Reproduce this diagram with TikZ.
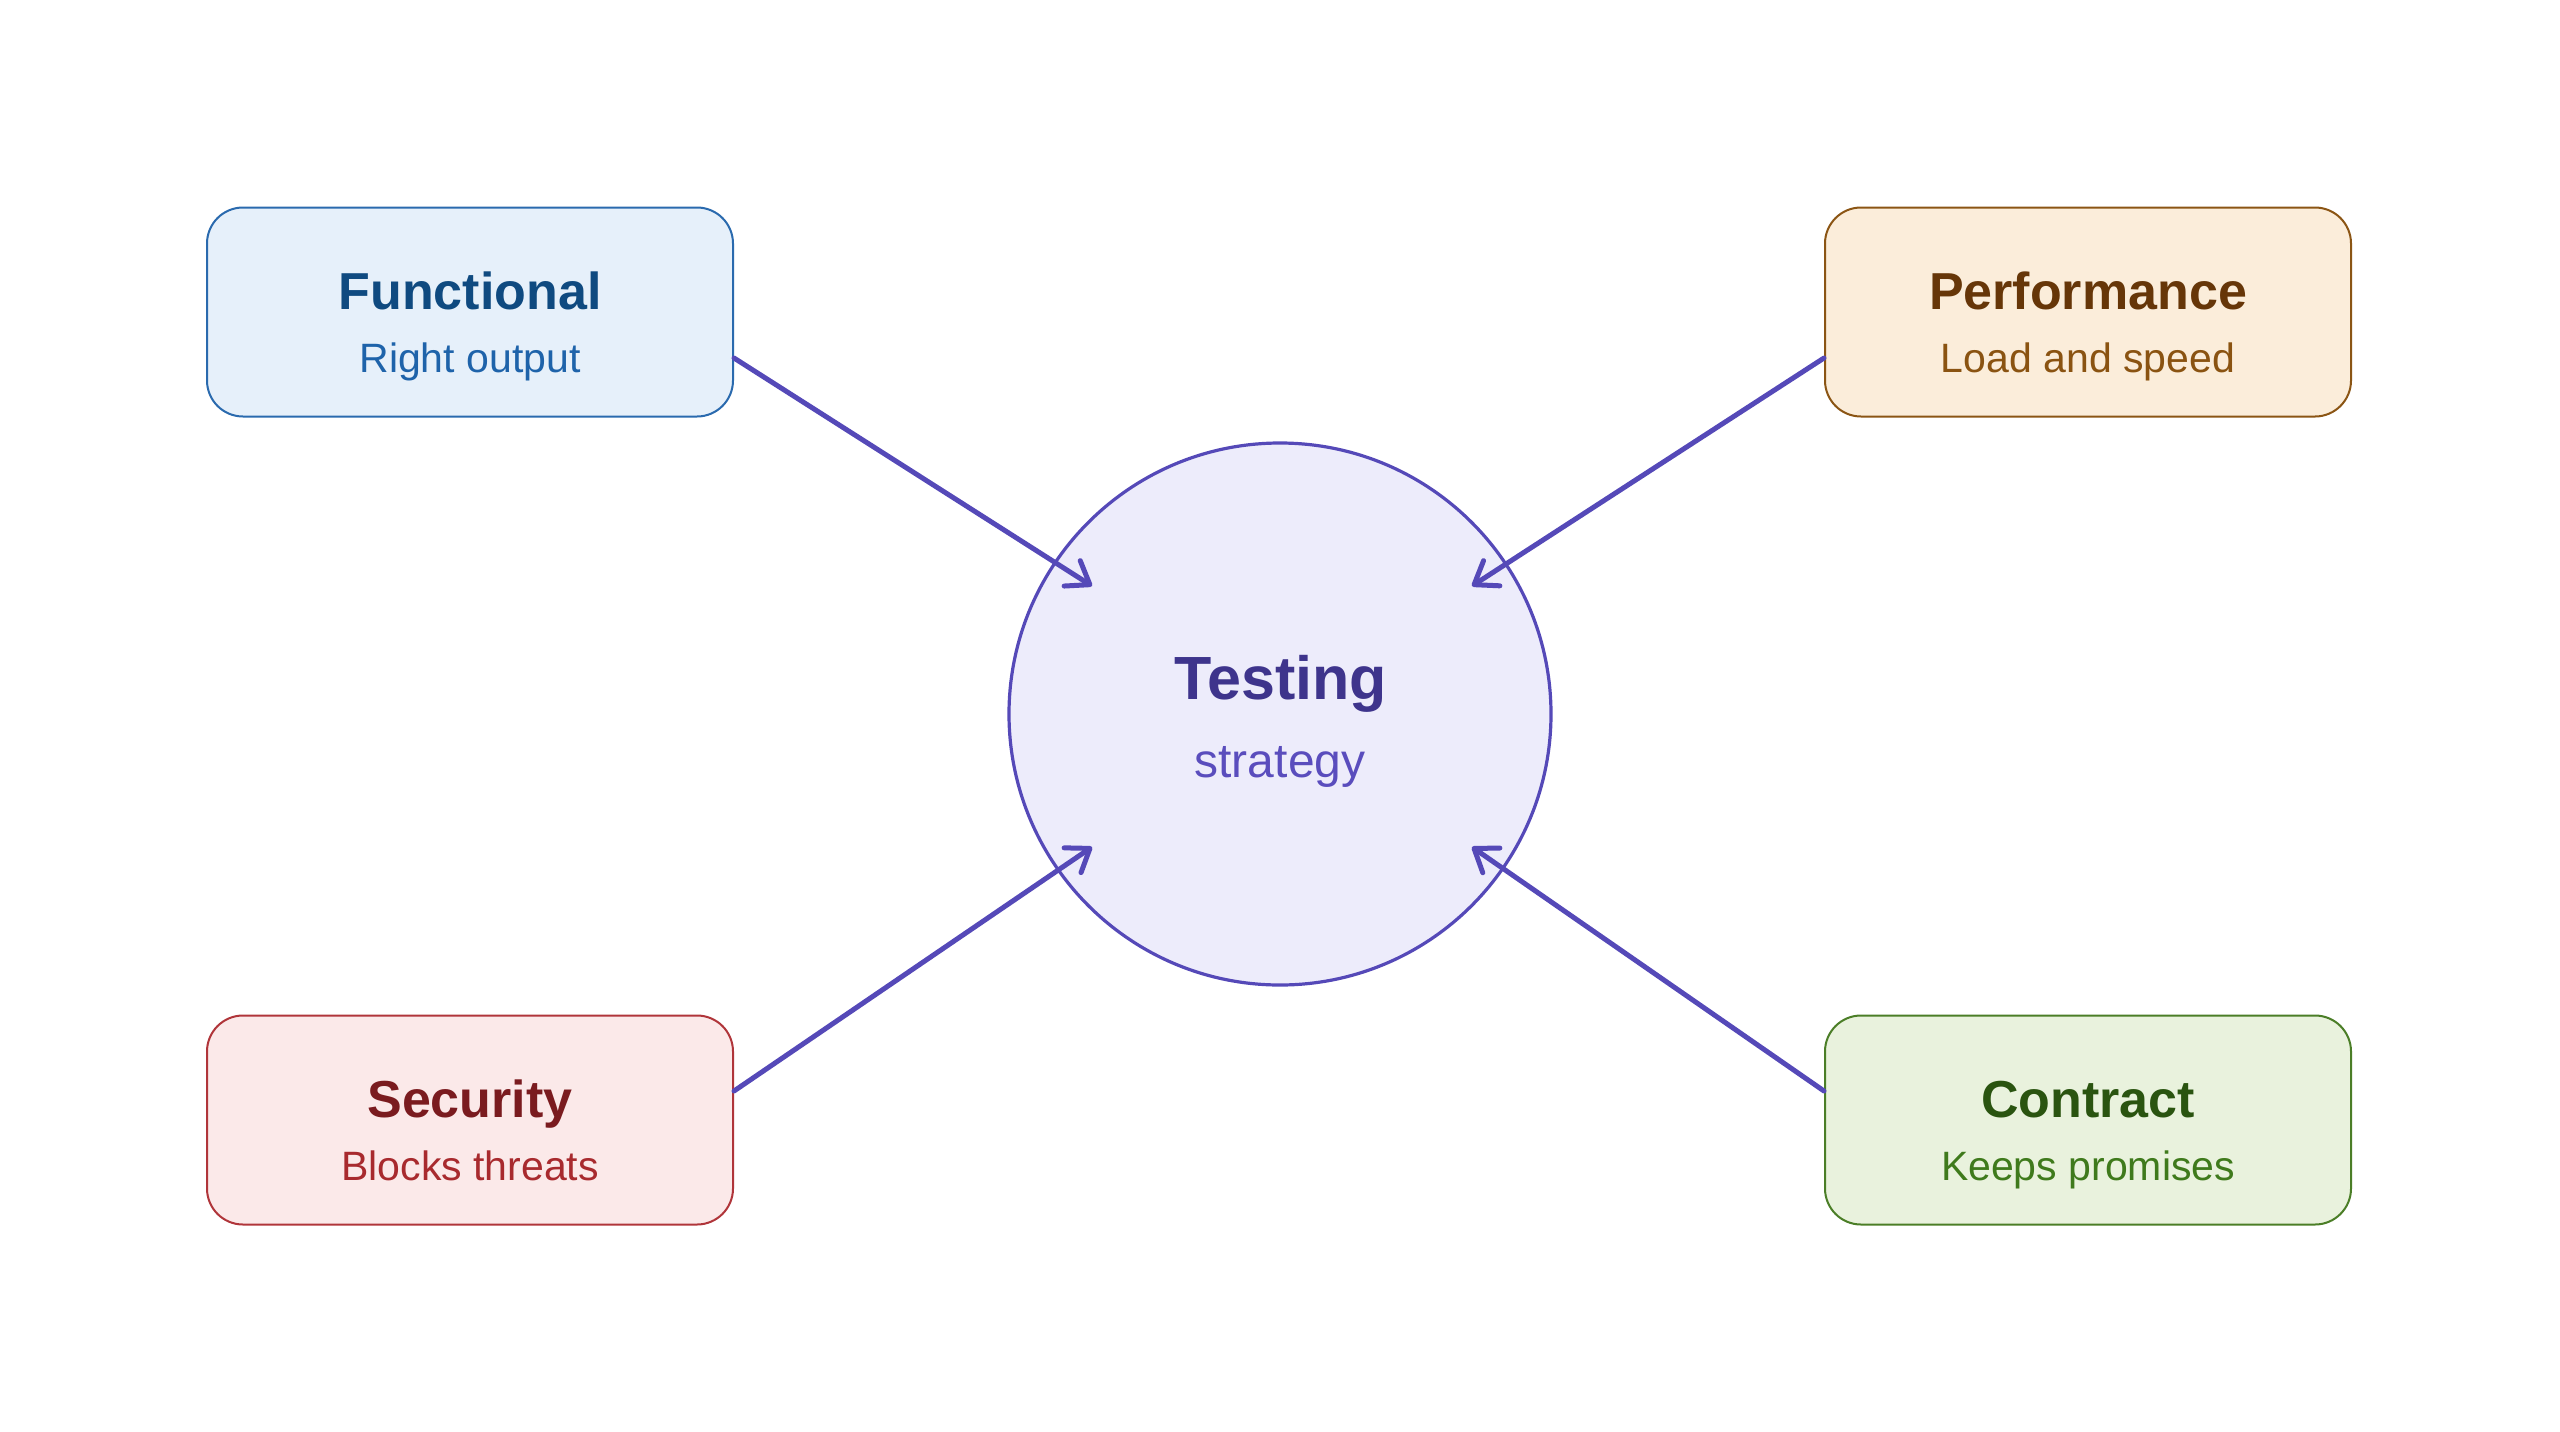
\documentclass[tikz,border=0pt]{standalone}
\usepackage{fontspec}
\setmainfont{Liberation Sans}
\usetikzlibrary{arrows.meta,calc}
\definecolor{funcfill}{HTML}{E6F0FA}
\definecolor{funcline}{HTML}{2A6AAE}
\definecolor{functitle}{HTML}{0F4A80}
\definecolor{funcsub}{HTML}{1E63AA}
\definecolor{perffill}{HTML}{FBEDDA}
\definecolor{perfline}{HTML}{8B5514}
\definecolor{perftitle}{HTML}{663608}
\definecolor{perfsub}{HTML}{8A5311}
\definecolor{secfill}{HTML}{FBE9E9}
\definecolor{secline}{HTML}{B0353A}
\definecolor{sectitle}{HTML}{7A1B1F}
\definecolor{secsub}{HTML}{A82A2E}
\definecolor{confill}{HTML}{E9F2DD}
\definecolor{conline}{HTML}{4B7E27}
\definecolor{contitle}{HTML}{2A5410}
\definecolor{consub}{HTML}{3F7A1C}
\definecolor{corefill}{HTML}{EDECFB}
\definecolor{coreline}{HTML}{5549B8}
\definecolor{coretitle}{HTML}{3E348C}
\definecolor{coresub}{HTML}{5A4DBD}
\definecolor{arrowc}{HTML}{5549B8}
\begin{document}
\begin{tikzpicture}[x=0.5pt,y=-0.5pt,
  box/.style={draw, rounded corners=18pt, line width=1pt, minimum width=263pt, minimum height=104.5pt, inner sep=0pt},
  ttl/.style={anchor=base, font=\fontsize{26}{30}\selectfont\bfseries, inner sep=0pt},
  sub/.style={anchor=base, font=\fontsize{20.5}{24}\selectfont, inner sep=0pt},
  arr/.style={draw=arrowc, line width=2.5pt, line cap=round, -{Straight Barb[length=10.5pt,width=15pt,round]}}]
\useasboundingbox (0,0) rectangle (2560,1431);
% boxes
\node[box, fill=funcfill, draw=funcline] (func) at (470,312) {};
\node[ttl, text=functitle] (funcT) at (470,309) {Functional};
\node[sub, text=funcsub] (funcS) at (470,372) {Right output};

\node[box, fill=perffill, draw=perfline] (perf) at (2088,312) {};
\node[ttl, text=perftitle] (perfT) at (2088,309) {Performance};
\node[sub, text=perfsub] (perfS) at (2088,372) {Load and speed};

\node[box, fill=secfill, draw=secline] (sec) at (470,1120) {};
\node[ttl, text=sectitle] (secT) at (470,1117) {Security};
\node[sub, text=secsub] (secS) at (470,1180) {Blocks threats};

\node[box, fill=confill, draw=conline] (con) at (2088,1120) {};
\node[ttl, text=contitle] (conT) at (2088,1117) {Contract};
\node[sub, text=consub] (conS) at (2088,1180) {Keeps promises};

% core
\node[circle, draw=coreline, fill=corefill, line width=1.6pt, minimum size=271pt, inner sep=0pt] (core) at (1280,714) {};
\node[anchor=base, inner sep=0pt, text=coretitle, font=\fontsize{30.5}{34}\selectfont\bfseries] (coreT) at (1281,699) {Testing};
\node[anchor=base, inner sep=0pt, text=coresub, font=\fontsize{24}{28}\selectfont] (coreS) at (1280,777) {strategy};

% connector ends
\coordinate (fS) at ($(func.east)+(0,46)$);
\coordinate (pS) at ($(perf.west)+(0,46)$);
\coordinate (sS) at ($(sec.east)+(0,-29)$);
\coordinate (cS) at ($(con.west)+(0,-29)$);
\coordinate (fE) at ($(core.center)+(-188,-128)$);
\coordinate (pE) at ($(core.center)+(192,-128)$);
\coordinate (sE) at ($(core.center)+(-188,133)$);
\coordinate (cE) at ($(core.center)+(192,133)$);

\draw[arr] (fS) -- (fE);
\draw[arr] (pS) -- (pE);
\draw[arr] (sS) -- (sE);
\draw[arr] (cS) -- (cE);
\end{tikzpicture}
\end{document}
